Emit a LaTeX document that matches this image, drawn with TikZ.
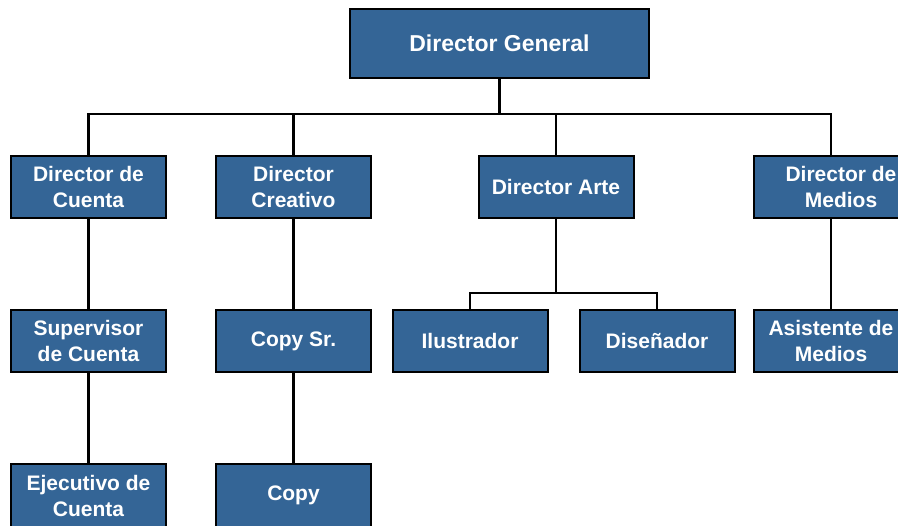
\documentclass[tikz,border=0pt]{standalone}
\usepackage{fontspec}
\setmainfont{Liberation Sans}
\tikzset{>=stealth}
\usetikzlibrary{positioning}
\definecolor{azulcaja}{RGB}{52,101,150}
\tikzset{puesto/.style={draw=black,line width=2pt,fill=azulcaja,text=white,
  font=\bfseries\fontsize{21}{26}\selectfont,align=center,
  minimum width=155pt,minimum height=62pt,inner sep=0pt}}
\tikzset{linea/.style={line width=2.6pt}}

\begin{document}
\begin{tikzpicture}[x=1pt,y=-1pt]
        \useasboundingbox (0,0) rectangle (898,526);
        \clip (0,0) rectangle (898,526);
        \coordinate (bus) at (0,114);
        \coordinate (busarte) at (0,293);
      % cajas
      \node[puesto,minimum width=299pt,minimum height=69pt,font=\bfseries\fontsize{23}{27}\selectfont] (dg) at (499.5,43.5) {Director General};
      \node[puesto] (dcuenta) at (88.5,187) {Director de\\Cuenta};
      \node[puesto] (dcreativo) at (293.5,187) {Director\\Creativo};
      \node[puesto] (darte) at (556,187) {Director Arte};
      \node[puesto,minimum width=174pt] (dmedios) at (841,187) {Director de\\Medios};
      \node[puesto] (supcuenta) at (88.5,341) {Supervisor\\de Cuenta};
      \node[puesto] (copysr) at (293.5,341) {Copy Sr.};
      \node[puesto] (ilus) at (470,341) {Ilustrador};
      \node[puesto] (disen) at (657,341) {Diseñador};
      \node[puesto] (asist) at (831,341) {Asistente de\\Medios};
      \node[puesto,minimum height=63pt] (ejec) at (88.5,495.5) {Ejecutivo de\\Cuenta};
      \node[puesto,minimum height=63pt] (copy) at (293.5,495.5) {Copy};
      % lineas
      \draw[linea] (dg.south) -- (dg.south |- bus);
      \draw[linea] (dcuenta.north) -- (dcuenta.north |- bus) -- (asist.north |- bus) -- (asist.north |- dmedios.north);
      \draw[linea] (dcreativo.north) -- (dcreativo.north |- bus);
      \draw[linea] (darte.north) -- (darte.north |- bus);
      \draw[linea] (dcuenta.south) -- (supcuenta.north);
      \draw[linea] (supcuenta.south) -- (ejec.north);
      \draw[linea] (dcreativo.south) -- (copysr.north);
      \draw[linea] (copysr.south) -- (copy.north);
      \draw[linea] (darte.south) -- (darte.south |- busarte);
      \draw[linea] (ilus.north) -- (ilus.north |- busarte) -- (disen.north |- busarte) -- (disen.north);
      \draw[linea] (asist.north) -- (asist.north |- dmedios.south);
    \end{tikzpicture}
\end{document}
